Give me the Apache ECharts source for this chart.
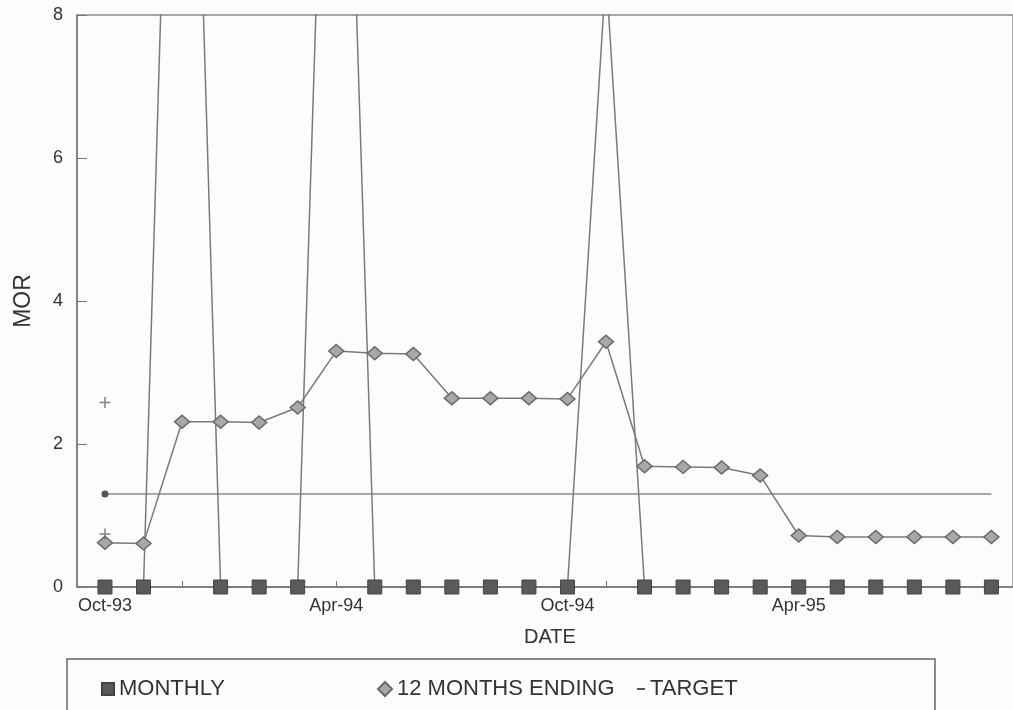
<!DOCTYPE html>
<html>
<head>
<meta charset="utf-8">
<title>MOR</title>
<script src="https://cdn.jsdelivr.net/npm/echarts@6/dist/echarts.min.js"></script>
<style>
  html, body { margin: 0; padding: 0; background: #fcfcfa; }
  #chart { width: 1013px; height: 710px; }
</style>
</head>
<body>
<div id="chart"></div>
<script>
// months, Oct-93 .. Sep-95
var categories = ['Oct-93', 'Nov-93', 'Dec-93', 'Jan-94', 'Feb-94', 'Mar-94', 'Apr-94', 'May-94',
    'Jun-94', 'Jul-94', 'Aug-94', 'Sep-94', 'Oct-94', 'Nov-94', 'Dec-94', 'Jan-95',
    'Feb-95', 'Mar-95', 'Apr-95', 'May-95', 'Jun-95', 'Jul-95', 'Aug-95', 'Sep-95'];
var labelMonths = ['Oct-93', 'Apr-94', 'Oct-94', 'Apr-95'];
var yTicks = [0, 2, 4, 6, 8];

var monthly = [0, 0, 18, 0, 0, 0, 17, 0, 0, 0, 0, 0, 0, 8.6, 0, 0, 0, 0, 0, 0, 0, 0, 0, 0];
var twelveMonths = [0.62, 0.61, 2.31, 2.31, 2.3, 2.51, 3.3, 3.27, 3.26, 2.64, 2.64, 2.64,
    2.63, 3.43, 1.69, 1.68, 1.67, 1.56, 0.72, 0.7, 0.7, 0.7, 0.7, 0.7];
var target = [1.3, 1.3, 1.3, 1.3, 1.3, 1.3, 1.3, 1.3, 1.3, 1.3, 1.3, 1.3,
    1.3, 1.3, 1.3, 1.3, 1.3, 1.3, 1.3, 1.3, 1.3, 1.3, 1.3, 1.3];
// stray '+' marks printed at the first month
var plusMarks = [2.58, 0.74];

var chart = echarts.init(document.getElementById('chart'));

const toPairs = arr => arr.map((v, i) => [i, v]);
const labelIdx = labelMonths.map(m => categories.indexOf(m));
const font = 'Liberation Sans, Arial, sans-serif';

var targetData = toPairs(target);
targetData[0] = {value: targetData[0], symbol: 'circle', symbolSize: 7};

var option = {
    backgroundColor: '#fcfcfa',
    animation: false,
    textStyle: {fontFamily: font},
    grid: {
        left: 77, top: 15, right: -2, bottom: 123,
        show: true, borderColor: '#8a8a8a', borderWidth: 1.5, backgroundColor: 'transparent'
    },
    xAxis: {
        type: 'value',
        min: -0.726,
        max: 23.56,
        name: 'DATE',
        nameLocation: 'middle',
        nameGap: 40,
        nameTextStyle: {fontSize: 20, color: '#333', padding: [0, 0, 0, 10]},
        axisLine: {onZero: false, lineStyle: {color: '#777', width: 1.5}},
        axisTick: {show: true, inside: true, length: 6, customValues: categories.map((c, i) => i),
            lineStyle: {color: '#777'}},
        axisLabel: {
            customValues: labelIdx,
            formatter: v => categories[Math.round(v)],
            fontSize: 18, color: '#333', margin: 10
        },
        splitLine: {show: false}
    },
    yAxis: {
        type: 'value',
        min: 0, max: 8, interval: 2,
        name: 'MOR',
        nameLocation: 'middle',
        nameGap: 42,
        nameRotate: 90,
        nameTextStyle: {fontSize: 23, color: '#333'},
        axisLine: {show: true, onZero: false, lineStyle: {color: '#777', width: 1.5}},
        axisTick: {show: true, inside: true, length: 10, lineStyle: {color: '#777'}},
        axisLabel: {fontSize: 18, color: '#333', margin: 14,
            formatter: v => yTicks.indexOf(v) >= 0 ? String(v) : ''},
        splitLine: {show: false}
    },
    legend: [
        {data: ['MONTHLY'], left: 96, top: 673, icon: 'rect', itemWidth: 12, itemHeight: 12,
            textStyle: {fontSize: 22, color: '#333'}},
        {data: ['12 MONTHS ENDING'], left: 372, top: 673, icon: 'diamond', itemWidth: 14, itemHeight: 14,
            textStyle: {fontSize: 22, color: '#333'}},
        {data: ['TARGET'], left: 632, top: 673, icon: 'rect', itemWidth: 8, itemHeight: 2,
            textStyle: {fontSize: 22, color: '#333'}}
    ],
    graphic: [{
        type: 'rect',
        shape: {x: 67, y: 659, width: 868, height: 60},
        style: {fill: 'none', stroke: '#666', lineWidth: 1.5},
        silent: true
    }],
    series: [
        {
            name: 'TARGET',
            type: 'line',
            data: targetData,
            symbol: 'none',
            lineStyle: {color: '#8a8a8a', width: 1.5},
            itemStyle: {color: '#555'},
            z: 2
        },
        {
            name: 'MONTHLY',
            type: 'line',
            data: toPairs(monthly),
            symbol: 'rect',
            symbolSize: 14,
            showAllSymbol: true,
            lineStyle: {color: '#7a7a7a', width: 1.5},
            itemStyle: {color: '#5a5a5a', borderColor: '#444', borderWidth: 1},
            z: 3
        },
        {
            name: '12 MONTHS ENDING',
            type: 'line',
            data: toPairs(twelveMonths),
            symbol: 'diamond',
            symbolSize: [15, 13],
            showAllSymbol: true,
            lineStyle: {color: '#7a7a7a', width: 1.5},
            itemStyle: {color: '#a8a8a8', borderColor: '#6a6a6a', borderWidth: 1.5},
            z: 4
        },
        {
            name: 'marks',
            type: 'scatter',
            data: plusMarks.map(v => [0, v]),
            symbol: 'path://M4.3,0h1.4v10h-1.4zM0,4.3h10v1.4h-10z',
            symbolSize: 11,
            itemStyle: {color: '#666'},
            z: 5
        }
    ]
};

chart.setOption(option);
</script>
</body>
</html>
